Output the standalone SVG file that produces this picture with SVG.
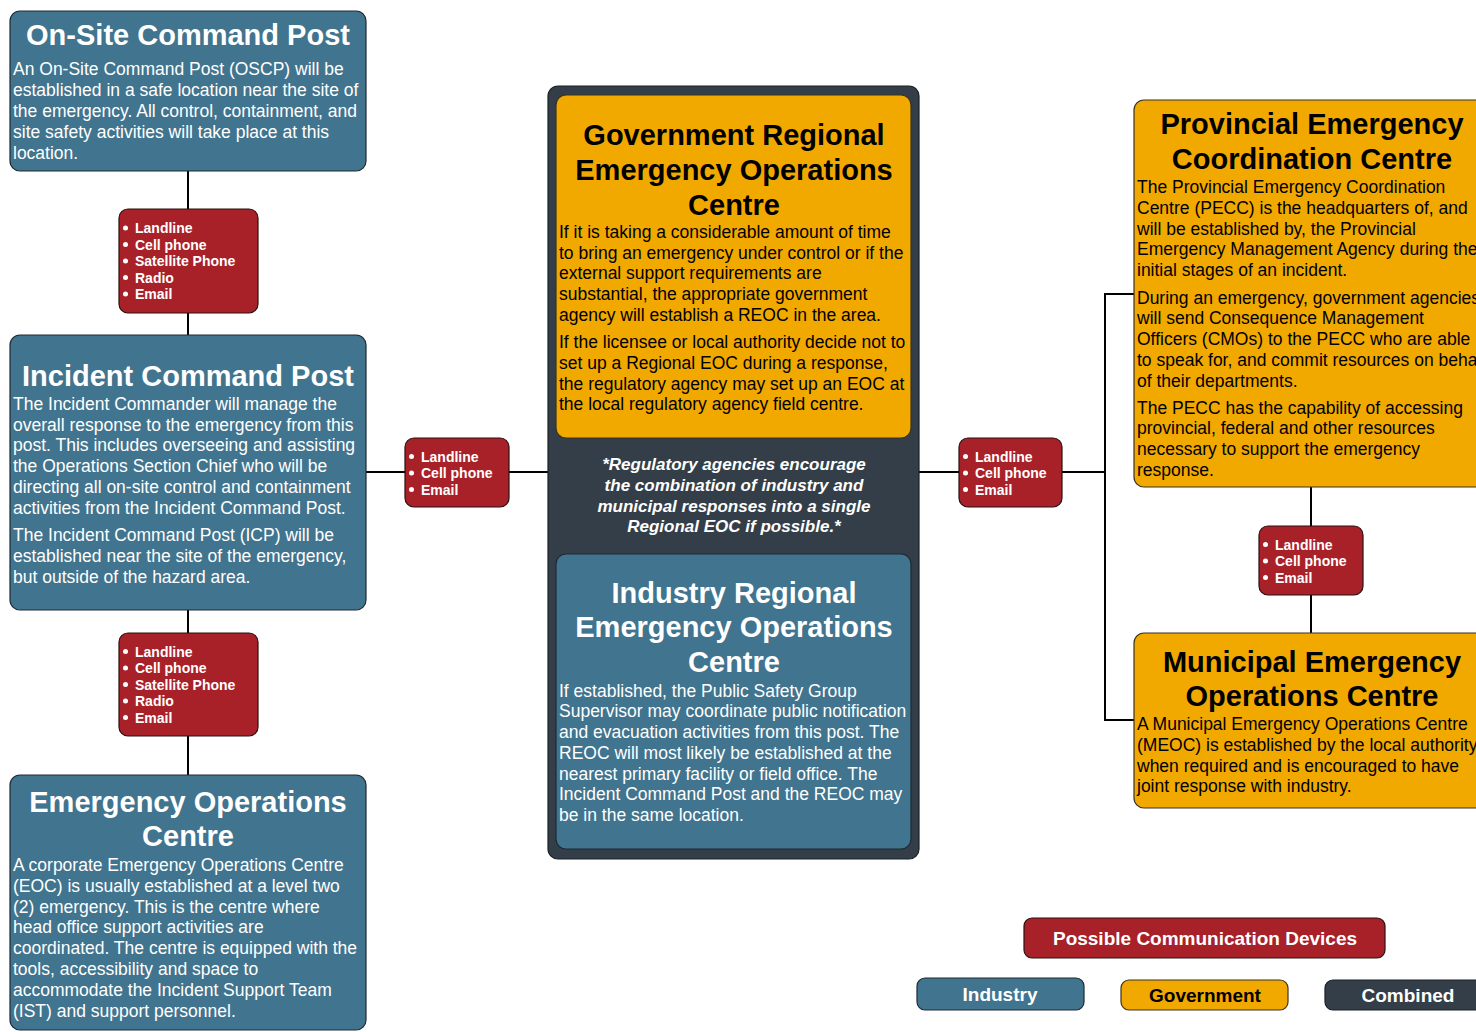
<svg xmlns="http://www.w3.org/2000/svg" width="1476" height="1032" viewBox="0 0 1476 1032">
<style>
.ind{fill:#41748e;stroke:#1e2a33;stroke-width:1.2}
.gov{fill:#f1a900;stroke:#3a3320;stroke-width:1.2}
.comb{fill:#333e48;stroke:#1a2026;stroke-width:1.2}
.dev{fill:#a82129;stroke:#2a1010;stroke-width:1.2}
.tw{font-family:"Liberation Sans",Arial,sans-serif;font-weight:bold;font-size:29px;fill:#fff;text-anchor:middle}
.tb{font-family:"Liberation Sans",Arial,sans-serif;font-weight:bold;font-size:29px;fill:#000;text-anchor:middle}
.bw{font-family:"Liberation Sans",Arial,sans-serif;font-size:17.5px;fill:#fff}
.bb{font-family:"Liberation Sans",Arial,sans-serif;font-size:17.5px;fill:#000}
.li{font-family:"Liberation Sans",Arial,sans-serif;font-weight:bold;font-size:14px;fill:#fff}
.note{font-family:"Liberation Sans",Arial,sans-serif;font-weight:bold;font-style:italic;font-size:17px;fill:#fff;text-anchor:middle}
.lg{font-family:"Liberation Sans",Arial,sans-serif;font-weight:bold;font-size:19px;text-anchor:middle}
.con{stroke:#000;stroke-width:2;fill:none}
.dot{fill:#fff}
</style>

<g id="connectors">
<line class="con" x1="188" y1="171" x2="188" y2="209"/>
<line class="con" x1="188" y1="313" x2="188" y2="335"/>
<line class="con" x1="188" y1="610" x2="188" y2="633"/>
<line class="con" x1="188" y1="736" x2="188" y2="775"/>
<line class="con" x1="366" y1="472" x2="405" y2="472"/>
<line class="con" x1="509" y1="472" x2="548" y2="472"/>
<line class="con" x1="919" y1="472" x2="959" y2="472"/>
<line class="con" x1="1062" y1="472" x2="1105" y2="472"/>
<polyline class="con" points="1134,294 1105,294 1105,720 1134,720"/>
<line class="con" x1="1311" y1="487" x2="1311" y2="526"/>
<line class="con" x1="1311" y1="595" x2="1311" y2="633"/>
</g>

<g id="oscp">
<rect class="ind" x="10" y="11" width="356" height="160" rx="10"/>
<text class="tw" x="188" y="45">On-Site Command Post</text>
<text class="bw" x="13" y="75">An On-Site Command Post (OSCP) will be</text>
<text class="bw" x="13" y="96">established in a safe location near the site of</text>
<text class="bw" x="13" y="117">the emergency. All control, containment, and</text>
<text class="bw" x="13" y="138">site safety activities will take place at this</text>
<text class="bw" x="13" y="159">location.</text>
</g>

<g id="dev1">
<rect class="dev" x="119" y="209" width="139" height="104" rx="9"/>
<circle class="dot" cx="125.5" cy="228" r="2.5"/><text class="li" x="135" y="233">Landline</text>
<circle class="dot" cx="125.5" cy="244.5" r="2.5"/><text class="li" x="135" y="249.5">Cell phone</text>
<circle class="dot" cx="125.5" cy="261" r="2.5"/><text class="li" x="135" y="266">Satellite Phone</text>
<circle class="dot" cx="125.5" cy="277.5" r="2.5"/><text class="li" x="135" y="282.5">Radio</text>
<circle class="dot" cx="125.5" cy="294" r="2.5"/><text class="li" x="135" y="299">Email</text>
</g>

<g id="icp">
<rect class="ind" x="10" y="335" width="356" height="275" rx="10"/>
<text class="tw" x="188" y="386">Incident Command Post</text>
<text class="bw" x="13" y="410">The Incident Commander will manage the</text>
<text class="bw" x="13" y="431">overall response to the emergency from this</text>
<text class="bw" x="13" y="451">post. This includes overseeing and assisting</text>
<text class="bw" x="13" y="472">the Operations Section Chief who will be</text>
<text class="bw" x="13" y="493">directing all on-site control and containment</text>
<text class="bw" x="13" y="514">activities from the Incident Command Post.</text>
<text class="bw" x="13" y="541">The Incident Command Post (ICP) will be</text>
<text class="bw" x="13" y="562">established near the site of the emergency,</text>
<text class="bw" x="13" y="583">but outside of the hazard area.</text>
</g>

<g id="dev2">
<rect class="dev" x="405" y="438" width="104" height="69" rx="9"/>
<circle class="dot" cx="411.5" cy="456.5" r="2.5"/><text class="li" x="421" y="461.5">Landline</text>
<circle class="dot" cx="411.5" cy="473" r="2.5"/><text class="li" x="421" y="478">Cell phone</text>
<circle class="dot" cx="411.5" cy="489.5" r="2.5"/><text class="li" x="421" y="494.5">Email</text>
</g>

<g id="dev3">
<rect class="dev" x="119" y="633" width="139" height="103" rx="9"/>
<circle class="dot" cx="125.5" cy="651.5" r="2.5"/><text class="li" x="135" y="656.5">Landline</text>
<circle class="dot" cx="125.5" cy="668" r="2.5"/><text class="li" x="135" y="673">Cell phone</text>
<circle class="dot" cx="125.5" cy="684.5" r="2.5"/><text class="li" x="135" y="689.5">Satellite Phone</text>
<circle class="dot" cx="125.5" cy="701" r="2.5"/><text class="li" x="135" y="706">Radio</text>
<circle class="dot" cx="125.5" cy="717.5" r="2.5"/><text class="li" x="135" y="722.5">Email</text>
</g>

<g id="eoc">
<rect class="ind" x="10" y="775" width="356" height="255" rx="10"/>
<text class="tw" x="188" y="812">Emergency Operations</text>
<text class="tw" x="188" y="846">Centre</text>
<text class="bw" x="13" y="871">A corporate Emergency Operations Centre</text>
<text class="bw" x="13" y="892">(EOC) is usually established at a level two</text>
<text class="bw" x="13" y="913">(2) emergency. This is the centre where</text>
<text class="bw" x="13" y="933">head office support activities are</text>
<text class="bw" x="13" y="954">coordinated. The centre is equipped with the</text>
<text class="bw" x="13" y="975">tools, accessibility and space to</text>
<text class="bw" x="13" y="996">accommodate the Incident Support Team</text>
<text class="bw" x="13" y="1017">(IST) and support personnel.</text>
</g>

<g id="combined">
<rect class="comb" x="548" y="86" width="371" height="773" rx="10"/>
<text class="note" x="734" y="470">*Regulatory agencies encourage</text>
<text class="note" x="734" y="491">the combination of industry and</text>
<text class="note" x="734" y="512">municipal responses into a single</text>
<text class="note" x="734" y="532">Regional EOC if possible.*</text>
</g>

<g id="greoc">
<rect class="gov" x="556" y="95" width="355" height="343" rx="10"/>
<text class="tb" x="734" y="145">Government Regional</text>
<text class="tb" x="734" y="180">Emergency Operations</text>
<text class="tb" x="734" y="215">Centre</text>
<text class="bb" x="559" y="238">If it is taking a considerable amount of time</text>
<text class="bb" x="559" y="259">to bring an emergency under control or if the</text>
<text class="bb" x="559" y="279">external support requirements are</text>
<text class="bb" x="559" y="300">substantial, the appropriate government</text>
<text class="bb" x="559" y="321">agency will establish a REOC in the area.</text>
<text class="bb" x="559" y="348">If the licensee or local authority decide not to</text>
<text class="bb" x="559" y="369">set up a Regional EOC during a response,</text>
<text class="bb" x="559" y="390">the regulatory agency may set up an EOC at</text>
<text class="bb" x="559" y="410">the local regulatory agency field centre.</text>
</g>

<g id="ireoc">
<rect class="ind" x="556" y="554" width="355" height="295" rx="10"/>
<text class="tw" x="734" y="603">Industry Regional</text>
<text class="tw" x="734" y="637">Emergency Operations</text>
<text class="tw" x="734" y="672">Centre</text>
<text class="bw" x="559" y="697">If established, the Public Safety Group</text>
<text class="bw" x="559" y="717">Supervisor may coordinate public notification</text>
<text class="bw" x="559" y="738">and evacuation activities from this post.  The</text>
<text class="bw" x="559" y="759">REOC will most likely be established at the</text>
<text class="bw" x="559" y="780">nearest primary facility or field office. The</text>
<text class="bw" x="559" y="800">Incident Command Post and the REOC may</text>
<text class="bw" x="559" y="821">be in the same location.</text>
</g>

<g id="dev4">
<rect class="dev" x="959" y="438" width="103" height="69" rx="9"/>
<circle class="dot" cx="965.5" cy="456.5" r="2.5"/><text class="li" x="975" y="461.5">Landline</text>
<circle class="dot" cx="965.5" cy="473" r="2.5"/><text class="li" x="975" y="478">Cell phone</text>
<circle class="dot" cx="965.5" cy="489.5" r="2.5"/><text class="li" x="975" y="494.5">Email</text>
</g>

<g id="pecc">
<rect class="gov" x="1134" y="100" width="360" height="387" rx="10"/>
<text class="tb" x="1312" y="134">Provincial Emergency</text>
<text class="tb" x="1312" y="169">Coordination Centre</text>
<text class="bb" x="1137" y="193">The Provincial Emergency Coordination</text>
<text class="bb" x="1137" y="214">Centre (PECC) is the headquarters of, and</text>
<text class="bb" x="1137" y="235">will be established by, the Provincial</text>
<text class="bb" x="1137" y="255">Emergency Management Agency during the</text>
<text class="bb" x="1137" y="276">initial stages of an incident.</text>
<text class="bb" x="1137" y="304">During an emergency, government agencies</text>
<text class="bb" x="1137" y="324">will send Consequence Management</text>
<text class="bb" x="1137" y="345">Officers (CMOs) to the PECC who are able</text>
<text class="bb" x="1137" y="366">to speak for, and commit resources on behalf</text>
<text class="bb" x="1137" y="387">of their departments.</text>
<text class="bb" x="1137" y="414">The PECC has the capability of accessing</text>
<text class="bb" x="1137" y="434">provincial, federal and other resources</text>
<text class="bb" x="1137" y="455">necessary to support the emergency</text>
<text class="bb" x="1137" y="476">response.</text>
</g>

<g id="dev5">
<rect class="dev" x="1259" y="526" width="104" height="69" rx="9"/>
<circle class="dot" cx="1265.5" cy="544.5" r="2.5"/><text class="li" x="1275" y="549.5">Landline</text>
<circle class="dot" cx="1265.5" cy="561" r="2.5"/><text class="li" x="1275" y="566">Cell phone</text>
<circle class="dot" cx="1265.5" cy="577.5" r="2.5"/><text class="li" x="1275" y="582.5">Email</text>
</g>

<g id="meoc">
<rect class="gov" x="1134" y="633" width="360" height="175" rx="10"/>
<text class="tb" x="1312" y="672">Municipal Emergency</text>
<text class="tb" x="1312" y="706">Operations Centre</text>
<text class="bb" x="1137" y="730">A Municipal Emergency Operations Centre</text>
<text class="bb" x="1137" y="751">(MEOC) is established by the local authority</text>
<text class="bb" x="1137" y="772">when required and is encouraged to have</text>
<text class="bb" x="1137" y="792">joint response with industry.</text>
</g>

<g id="legend">
<rect class="dev" x="1024" y="918" width="361" height="40" rx="8"/>
<text class="lg" x="1205" y="945" fill="#fff">Possible Communication Devices</text>
<rect class="ind" x="917" y="978" width="167" height="32" rx="8"/>
<text class="lg" x="1000" y="1001" fill="#fff">Industry</text>
<rect class="gov" x="1121" y="980" width="167" height="30" rx="8"/>
<text class="lg" x="1205" y="1002" fill="#000">Government</text>
<rect class="comb" x="1325" y="980" width="167" height="30" rx="8"/>
<text class="lg" x="1408" y="1002" fill="#fff">Combined</text>
</g>
</svg>
